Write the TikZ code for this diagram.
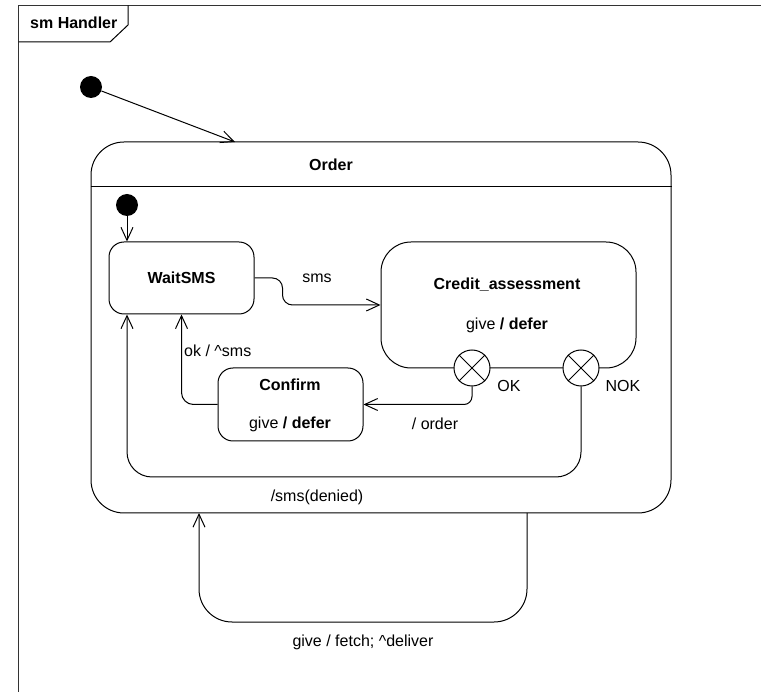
\documentclass[tikz,border=0pt]{standalone}
\usepackage{fontspec}
\setmainfont{Liberation Sans}
\usetikzlibrary{arrows.meta,calc}
\begin{document}
\begin{tikzpicture}[x=1pt,y=-1pt,
  every node/.style={font=\fontsize{16}{19}\selectfont, inner sep=0pt},
  line/.style={draw=black, line width=1pt},
  tr/.style={line, -{Straight Barb[length=13pt,width=12pt,line width=1pt]}},
  statebox/.style={line, rectangle, rounded corners=#1},
  initial/.style={circle, fill=black, minimum size=22pt},
  exitpt/.style={line, circle, fill=white, minimum size=36pt},
  title/.style={font=\fontsize{16}{19}\selectfont\bfseries},
]
\useasboundingbox (0,0) rectangle (761,692);

% diagram frame and its name tab
\draw[line width=1.5pt, draw=black!80] (761,5.5) -- (18.5,5.5) -- (18.5,692);
\draw[line] (18.5,42) -- (110,42) -- (128,25) -- (128,5.5);
\node[title, anchor=west] (tab) at (30,23) {sm Handler};

% outer composite state
\node[initial] (init1) at (91,87) {};
\node[statebox=33pt, minimum width=580pt, minimum height=371pt] (order) at (381,327.5) {};
\node[title] (ordername) at (331,165) {Order};
\draw[line] (order.west |- 0,187) -- (order.east |- 0,187);
\coordinate (orderin) at (235,142);
\draw[tr] (init1) -- (orderin);

% inner states
\node[initial] (init2) at (127,205) {};
\node[statebox=15pt, minimum width=145pt, minimum height=72pt] (wait) at (181.5,278) {};
\node[title] (waitname) at (wait.center) {WaitSMS};
\draw[tr] (init2) -- (init2 |- wait.north);

\node[statebox=30pt, minimum width=255pt, minimum height=126pt] (credit) at (508.5,305) {};
\node[title] (creditname) at (507,285) {Credit\_assessment};
\node (creditdo) at (507,325) {give \textbf{/ defer}};

\node[statebox=15pt, minimum width=145pt, minimum height=73pt] (confirm) at (290.5,404.5) {};
\node[title] (confirmname) at (290,385) {Confirm};
\node (confirmdo) at (290,424) {give \textbf{/ defer}};

% exit points of Credit_assessment
\node[exitpt] (okx) at (472,368) {};
\draw[line] (okx.north west) -- (okx.south east) (okx.north east) -- (okx.south west);
\node[exitpt] (nokx) at (581,368) {};
\draw[line] (nokx.north west) -- (nokx.south east) (nokx.north east) -- (nokx.south west);
\node (oklabel) at (509,386) {OK};
\node (noklabel) at (623,386) {NOK};

% transitions
\draw[tr, rounded corners=10pt] (wait.east) -- ++(28,0) |- (credit.west);
\node (smslabel) at (317,278) {sms};

\draw[tr, rounded corners=8pt] (okx.south) |- (confirm.east);
\node (orderlabel) at (435,424) {/ order};

\draw[tr, rounded corners=12pt] (confirm.west) -| (wait.south);
\node[anchor=west] (oklabel2) at (184,351) {ok / \textasciicircum sms};

\coordinate (deniedturn) at (127,477);
\draw[tr, rounded corners=25pt] (nokx.south) |- (deniedturn) -- (deniedturn |- wait.south);
\node (deniedlabel) at (317,497) {/sms(denied)};

\coordinate (giveout) at (527,513);
\coordinate (givein) at (199,513);
\coordinate (givebottom) at (0,622);
\draw[tr, rounded corners=33pt] (giveout) -- (giveout |- givebottom) -- (givein |- givebottom) -- (givein);
\node (givelabel) at (363,642) {give / fetch; \textasciicircum deliver};
\end{tikzpicture}
\end{document}
